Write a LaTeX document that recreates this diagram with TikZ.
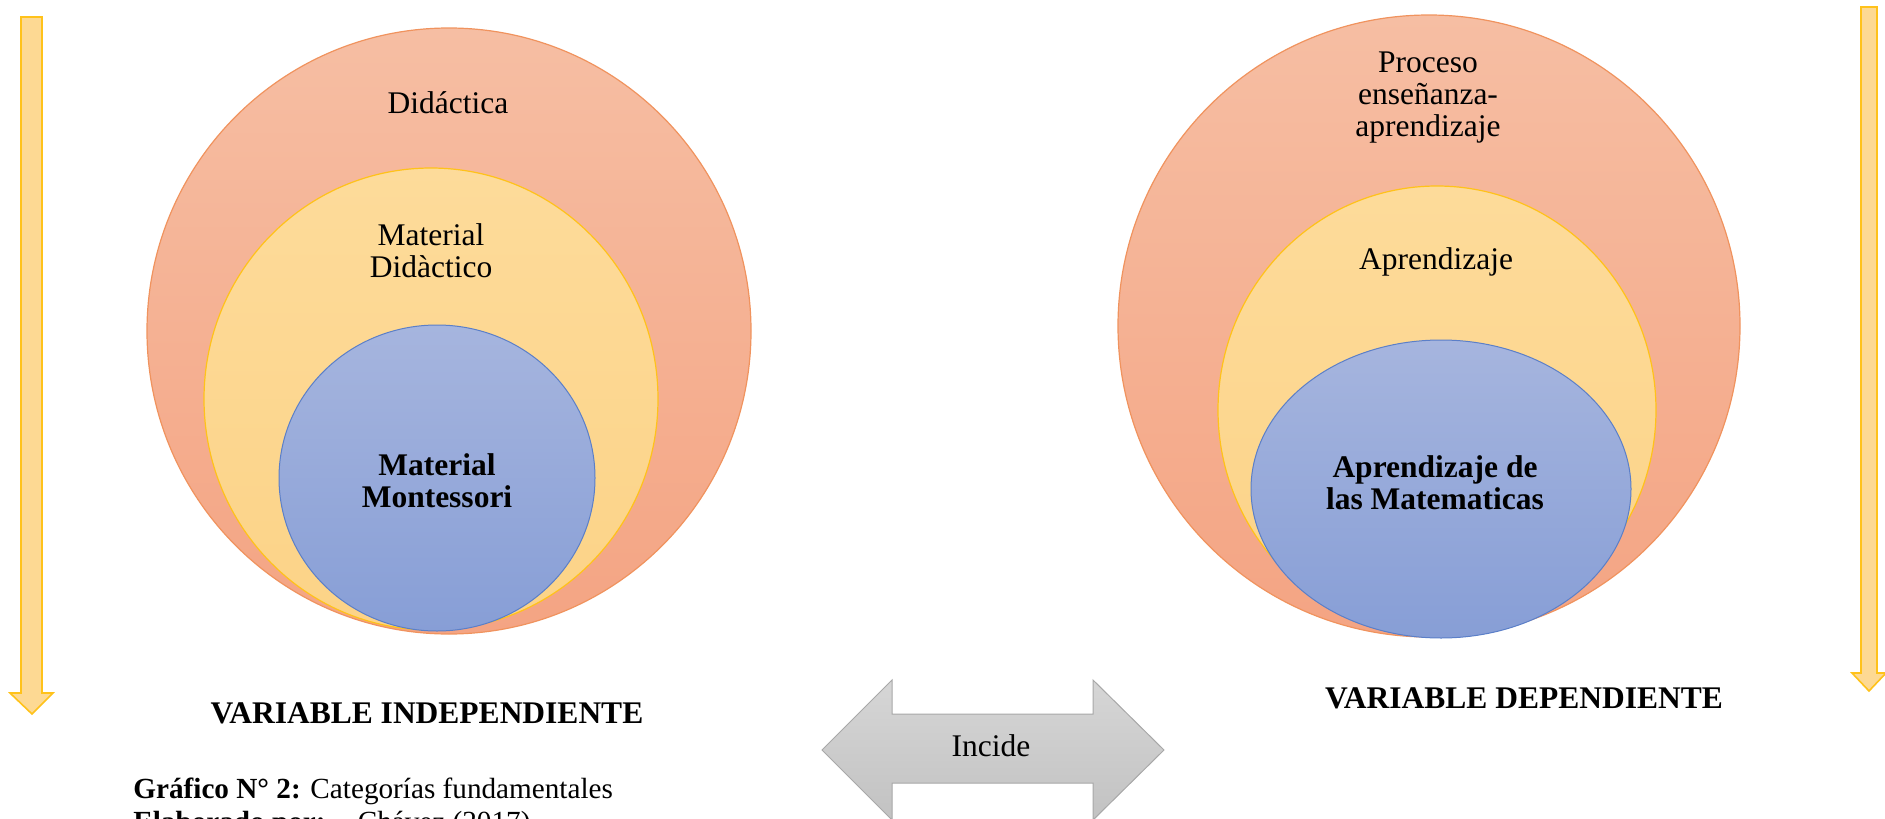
\documentclass[tikz,border=0pt]{standalone}
\usepackage{fontspec}
\setmainfont{Liberation Serif}
\begin{document}
\begin{tikzpicture}[x=0.5pt,y=-0.5pt,
  outerell/.style={draw=orangeline,line width=0.6pt,top color=outertop,bottom color=outerbot},
  midell/.style={draw=goldline,line width=0.6pt,top color=midtop,bottom color=midbot},
  innerell/.style={draw=blueline,line width=0.5pt,top color=innertop,bottom color=innerbot},
  lbl/.style={inner sep=0pt,font=\fontsize{15.75}{16}\selectfont,align=center},
  blbl/.style={inner sep=0pt,font=\fontsize{15.75}{16}\selectfont\bfseries,align=center},
  vararrow/.style={draw=goldline,line width=0.8pt,fill=arrowfill},
  grayarrow/.style={draw=grayline,line width=0.5pt,top color=graytop,bottom color=graybot}]
\definecolor{orangeline}{HTML}{F0935E}
\definecolor{outertop}{HTML}{F6BEA3}
\definecolor{outerbot}{HTML}{F4A483}
\definecolor{goldline}{HTML}{FFC21A}
\definecolor{midtop}{HTML}{FDDB9A}
\definecolor{midbot}{HTML}{FCD387}
\definecolor{blueline}{HTML}{5B7FC8}
\definecolor{innertop}{HTML}{A6B5DE}
\definecolor{innerbot}{HTML}{879ED6}
\definecolor{arrowfill}{HTML}{FDD993}
\definecolor{grayline}{HTML}{A8A8A8}
\definecolor{graytop}{HTML}{D6D6D6}
\definecolor{graybot}{HTML}{C2C2C2}
\useasboundingbox (0,0) rectangle (1885,819);
\clip (0,0) rectangle (1885,819);
% left circles
\path[outerell] (449,331) ellipse [x radius=302, y radius=303];
\path[midell] (431,399) ellipse [x radius=227, y radius=231];
\path[innerell] (437,478) ellipse [x radius=158, y radius=153];
% right circles
\path[outerell] (1429,326) ellipse [x radius=311, y radius=311];
\path[midell] (1437,410) ellipse [x radius=219, y radius=224];
\path[innerell] (1441,489) ellipse [x radius=190, y radius=149];
% labels
\node[lbl,anchor=base] (did) at (448,113) {Didáctica};
\node[lbl,anchor=north] (matdid) at (431,223) {Material\\Didàctico};
\node[blbl,anchor=north] (matmon) at (437,453) {Material\\Montessori};
\node[lbl,anchor=north] (proc) at (1428,51) {Proceso\\enseñanza-\\aprendizaje};
\node[lbl,anchor=base] (apr) at (1436,269) {Aprendizaje};
\node[blbl,anchor=north] (aprmat) at (1435,455) {Aprendizaje de\\las Matematicas};
\node[blbl,anchor=base] (vi) at (427,723) {VARIABLE INDEPENDIENTE};
\node[blbl,anchor=base] (vd) at (1524,708) {VARIABLE DEPENDIENTE};
% vertical arrows
\path[vararrow] (21,17) -- (42,17) -- (42,693) -- (53,693) -- (32,714) -- (10,693) -- (21,693) -- cycle;
\path[vararrow] (1861,7) -- (1877,7) -- (1877,673) -- (1886,673) -- (1869,691) -- (1852,673) -- (1861,673) -- cycle;
% double arrow
\path[grayarrow] (822,750) -- (892,680) -- (892,714) -- (1093,714) -- (1093,680) -- (1164,750) -- (1093,820) -- (1093,783) -- (892,783) -- (892,820) -- cycle;
\node[lbl,anchor=base] (inc) at (991,756) {Incide};
% caption
\node[inner sep=0pt,anchor=base west,font=\fontsize{14.6}{16.5}\selectfont,align=left] (cap) at (133,831) {\textbf{Gráfico N° 2:} Categorías fundamentales\\\textbf{Elaborado por:}\hspace{1.1em}Chávez (2017)};
\end{tikzpicture}
\end{document}
